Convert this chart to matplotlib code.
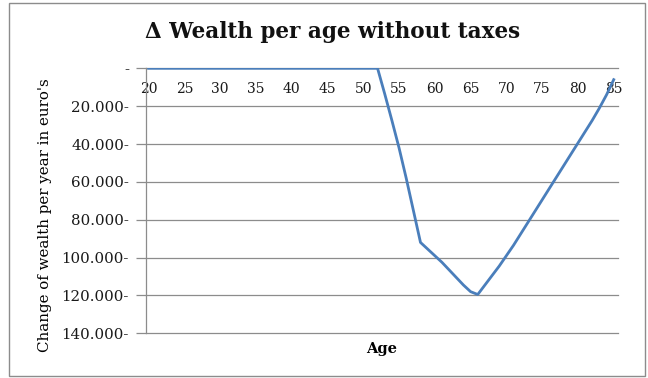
import matplotlib
matplotlib.use('agg')
import matplotlib.pyplot as plt
import matplotlib.ticker
from matplotlib.patches import Rectangle

# ages 20..85, change of wealth per year (negative = wealth drops)
ages = list(range(20, 86))
flat_years = [0] * 33  # 20..52
drop = [-13500, -27500, -42000, -58000, -75000, -92000]  # 53..58
bottom = [-95500, -99000, -102500, -106500, -110500, -114500, -118000, -119500]  # 59..66
recovery = [-114500, -109500, -104500, -99000, -93500, -87500, -81500, -75500,
            -69500, -63500, -57500, -51500, -45500, -39500, -33500, -27500,
            -21000, -14000, -6000]  # 67..85
wealth_change = flat_years + drop + bottom + recovery

x_ticks = list(range(20, 90, 5))
y_ticks = [0, -20000, -40000, -60000, -80000, -100000, -120000, -140000]

serif = ['DejaVu Serif']


def euro_fmt(v, pos):
    if v == 0:
        return '-'
    return f"{abs(v):,.0f}-".replace(',', '.')


fig = plt.figure(figsize=(6.48, 3.78), dpi=100)
W, H = 648, 378
# outer chart border
fig.patches.append(Rectangle((9 / W, 1 - 376 / H), 636 / W, 373 / H, transform=fig.transFigure,
                             fill=False, edgecolor='#8c8c8c', linewidth=1.0))

ax = fig.add_axes([145.7 / W, 1 - 333.3 / H, (618 - 145.7) / W, (333.3 - 68.3) / H])
ax.plot(ages, wealth_change, color='#4a7ebb', linewidth=2.0, solid_joinstyle='round')

ax.set_xlim(19.6, 85.6)
ax.set_ylim(-140000, 0)
ax.set_xticks(x_ticks)
ax.set_yticks(y_ticks)
ax.yaxis.set_major_formatter(matplotlib.ticker.FuncFormatter(euro_fmt))
ax.grid(axis='y', color='#8c8c8c', linewidth=0.9)
for gl in ax.get_ygridlines():
    gl.set_clip_on(False)
ax.set_axisbelow(True)

for side in ['top', 'right', 'bottom']:
    ax.spines[side].set_visible(False)
ax.spines['left'].set_color('#8c8c8c')
ax.spines['left'].set_linewidth(0.9)

ax.xaxis.set_ticks_position('top')
ax.tick_params(axis='x', length=0, labeltop=True, labelbottom=False, pad=-20)
ax.tick_params(axis='y', length=7, color='#8c8c8c', width=0.9, pad=5)
for lbl in ax.get_xticklabels():
    lbl.set_family(serif)
    lbl.set_fontsize(10)
    lbl.set_color('#1a1a1a')
for lbl in ax.get_yticklabels():
    lbl.set_family(serif)
    lbl.set_fontsize(10.8)
    lbl.set_color('#1a1a1a')

ax.set_ylabel("Change of wealth per year in euro's", family=serif, fontsize=10.8)
ax.yaxis.set_label_coords(-0.198, 0.446)
ax.set_xlabel("Age", family=serif, fontsize=10.5, fontweight='bold', labelpad=6)
ax.xaxis.set_label_position('bottom')

fig.text(333 / W, 1 - 32 / H, "\u0394 Wealth per age without taxes", family=serif,
         fontsize=15.5, fontweight='bold', ha='center', va='center', color='#111111')

fig.savefig('out.png', dpi=100)
